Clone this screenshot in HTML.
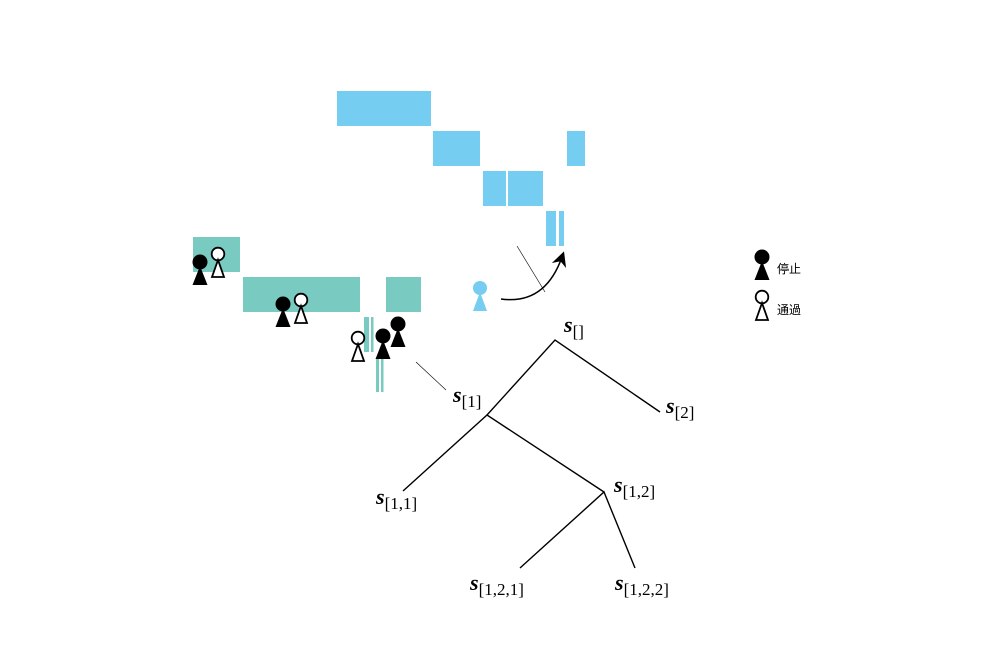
<!DOCTYPE html>
<html><head><meta charset="utf-8"><style>
html,body{margin:0;padding:0;background:#fff;}
svg{display:block;}
.lbl{font-family:"Liberation Serif",serif;}
</style></head><body>
<svg width="1000" height="650" viewBox="0 0 1000 650">
<defs>
<g id="pf"><circle cx="0" cy="-8" r="7.5" fill="#000"/><polygon points="0,-4 -7.5,15 7.5,15" fill="#000"/></g>
<g id="po"><circle cx="0" cy="-8" r="6.3" fill="#fff" stroke="#000" stroke-width="1.8"/><polygon points="0,-2 -6,15 6,15" fill="#fff" stroke="#000" stroke-width="1.8"/></g>
<marker id="ah" markerWidth="10" markerHeight="10" refX="6" refY="5" orient="auto"><path d="M0,0 L10,5 L0,10 L3,5 Z" fill="#000"/></marker>
</defs>
<g fill="#75cdf1">
<rect x="337" y="91" width="94" height="35"/>
<rect x="433" y="131" width="47" height="35"/>
<rect x="567" y="131" width="18" height="35"/>
<rect x="483" y="171" width="23" height="35"/>
<rect x="508" y="171" width="35" height="35"/>
<rect x="546" y="211" width="10" height="35"/>
<rect x="559" y="211" width="5" height="35"/>
</g>
<g fill="#79cbc1">
<rect x="193" y="237" width="47" height="35"/>
<rect x="243" y="277" width="117" height="35"/>
<rect x="386" y="277" width="35" height="35"/>
<rect x="364" y="317" width="5" height="35"/>
<rect x="371" y="317" width="2.5" height="35"/>
<rect x="376" y="357" width="3" height="35"/>
<rect x="381" y="357" width="2.5" height="35"/>
</g>
<g>
<use href="#pf" x="200" y="270"/>
<use href="#po" x="218" y="262"/>
<use href="#pf" x="283" y="312"/>
<use href="#po" x="301" y="308"/>
<use href="#po" x="358" y="346"/>
<use href="#pf" x="383" y="344"/>
<use href="#pf" x="398" y="332"/>
</g>
<g fill="#75cdf1"><circle cx="480" cy="288" r="7"/><polygon points="480,292 473,311 487,311"/></g>
<path d="M501,299 Q545,305 562,257" fill="none" stroke="#000" stroke-width="1.5" marker-end="url(#ah)"/>
<line x1="517" y1="246" x2="545" y2="292" stroke="#000" stroke-width="0.6"/>
<line x1="416" y1="362" x2="446" y2="390" stroke="#000" stroke-width="0.6"/>
<g stroke="#000" stroke-width="1.4" fill="none">
<polyline points="487,415 555,340 660,412"/>
<polyline points="403,491 487,415 604,492"/>
<polyline points="520,568 604,492 635,568"/>
</g>
<g class="lbl" font-size="17">
<text x="564" y="332"><tspan font-weight="bold" font-style="italic" font-size="22">s</tspan><tspan dy="5">[]</tspan></text>
<text x="453" y="402"><tspan font-weight="bold" font-style="italic" font-size="22">s</tspan><tspan dy="5">[1]</tspan></text>
<text x="666" y="413"><tspan font-weight="bold" font-style="italic" font-size="22">s</tspan><tspan dy="5">[2]</tspan></text>
<text x="376" y="504"><tspan font-weight="bold" font-style="italic" font-size="22">s</tspan><tspan dy="5">[1,1]</tspan></text>
<text x="614" y="492"><tspan font-weight="bold" font-style="italic" font-size="22">s</tspan><tspan dy="5">[1,2]</tspan></text>
<text x="470" y="590"><tspan font-weight="bold" font-style="italic" font-size="22">s</tspan><tspan dy="5">[1,2,1]</tspan></text>
<text x="615" y="590"><tspan font-weight="bold" font-style="italic" font-size="22">s</tspan><tspan dy="5">[1,2,2]</tspan></text>
</g>
<g font-family="'Liberation Sans','Noto Sans CJK JP',sans-serif" font-size="12">
<use href="#pf" x="762" y="265"/>
<text x="777" y="273">停止</text>
<use href="#po" x="762" y="305"/>
<text x="777" y="314">通過</text>
</g>
</svg>
</body></html>
